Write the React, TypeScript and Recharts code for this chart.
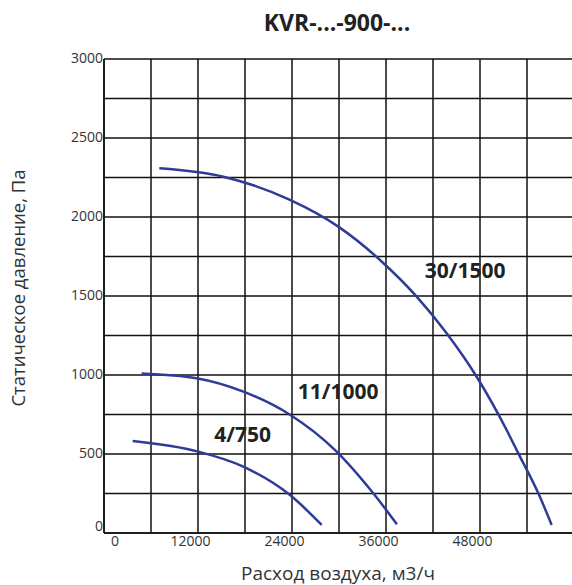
import React from 'react';
import { LineChart, Line, XAxis, YAxis, CartesianGrid, ReferenceDot } from 'recharts';

const xTicks = [0, 6000, 12000, 18000, 24000, 30000, 36000, 42000, 48000, 54000, 60000];
const yTicks = [0, 250, 500, 750, 1000, 1250, 1500, 1750, 2000, 2250, 2500, 2750, 3000];

const s30x = [7060, 15230, 23745, 29911, 35234, 39915, 43745, 47574, 51400, 52893, 55447, 57150];
const s30y = [2308, 2255, 2108, 1939, 1728, 1496, 1264, 989, 652, 504, 251, 51];

const s11x = [4800, 11800, 17800, 23700, 29600, 34400, 37400];
const s11y = [1010, 980, 895, 750, 520, 250, 55];

const s4x = [3660, 12040, 17780, 23750, 27790];
const s4y = [582, 515, 420, 240, 51];

const curveLabels = ['30/1500', '11/1000', '4/750'];
const labelX = [46100, 29900, 17700];
const labelY = [1660, 894, 620];

const toPts = (xs: number[], ys: number[]) => xs.map((x, i) => ({ x, y: ys[i] }));
const d30 = toPts(s30x, s30y);
const d11 = toPts(s11x, s11y);
const d4 = toPts(s4x, s4y);

const FONT = '"Open Sans", "Noto Sans", sans-serif';
const LINE = '#2e3b97';

const XTick = (props: any) => {
  const { x, y, payload } = props;
  const v = payload.value;
  if (v % 12000 !== 0 || v >= 60000) return null;
  const dx = v === 0 ? 11 : -7.5;
  return (
    <text x={x + dx} y={y + 6} dy="0.35em" textAnchor="middle" fontSize={14} fill="#333" fontFamily={FONT}>
      {v}
    </text>
  );
};

const YTick = (props: any) => {
  const { x, y, payload } = props;
  const v = payload.value;
  if (v % 500 !== 0) return null;
  const dy = v === 0 ? -7 : -1;
  return (
    <text x={x} y={y + dy} dy="0.35em" textAnchor="end" fontSize={14} fill="#333" fontFamily={FONT}>
      {v}
    </text>
  );
};

export default function App() {
  return (
    <div style={{ position: 'absolute', left: 0, top: 0, width: 572, height: 585, overflow: 'hidden', background: '#fff' }}>
      <LineChart width={600} height={585} margin={{ top: 59, right: 26, left: 0, bottom: 0 }}>
        <CartesianGrid stroke="#111" strokeWidth={1.5} />
        <XAxis
          type="number"
          dataKey="x"
          domain={[0, 60000]}
          ticks={xTicks}
          interval={0}
          height={52}
          tickLine={false}
          tickSize={0}
          axisLine={{ stroke: '#111', strokeWidth: 1.5 }}
          tick={<XTick />}
          allowDataOverflow
        />
        <YAxis
          type="number"
          domain={[0, 3000]}
          ticks={yTicks}
          interval={0}
          width={104}
          tickLine={false}
          tickSize={0}
          tickMargin={1}
          axisLine={{ stroke: '#111', strokeWidth: 1.5 }}
          tick={<YTick />}
          allowDataOverflow
        />
        <Line data={d30} dataKey="y" type="monotone" stroke={LINE} strokeWidth={2.5} dot={false} isAnimationActive={false} />
        <Line data={d11} dataKey="y" type="monotone" stroke={LINE} strokeWidth={2.5} dot={false} isAnimationActive={false} />
        <Line data={d4} dataKey="y" type="monotone" stroke={LINE} strokeWidth={2.5} dot={false} isAnimationActive={false} />
        {curveLabels.map((t, i) => (
          <ReferenceDot
            key={t}
            x={labelX[i]}
            y={labelY[i]}
            r={0}
            fill="none"
            stroke="none"
            label={{ value: t, position: 'center', fontSize: 21, fontWeight: 700, fill: '#222', fontFamily: FONT }}
          />
        ))}
      </LineChart>
      <div style={{ position: 'absolute', left: 0, width: 674, top: 7, textAlign: 'center', fontFamily: FONT, fontWeight: 700, fontSize: 23, color: '#222', lineHeight: '30px', whiteSpace: 'nowrap' }}>
        KVR-...-900-...
      </div>
      <div style={{ position: 'absolute', left: 0, width: 676, top: 563, textAlign: 'center', fontFamily: FONT, fontSize: 19, color: '#333', lineHeight: '20px', whiteSpace: 'nowrap' }}>
        Расход воздуха, м3/ч
      </div>
      <div style={{ position: 'absolute', left: 18, top: 288, width: 0, height: 0 }}>
        <div style={{ position: 'absolute', left: -170, top: -12, width: 340, textAlign: 'center', transform: 'rotate(-90deg)', fontFamily: FONT, fontSize: 18.5, color: '#333', lineHeight: '24px', whiteSpace: 'nowrap' }}>
          Статическое давление, Па
        </div>
      </div>
    </div>
  );
}
